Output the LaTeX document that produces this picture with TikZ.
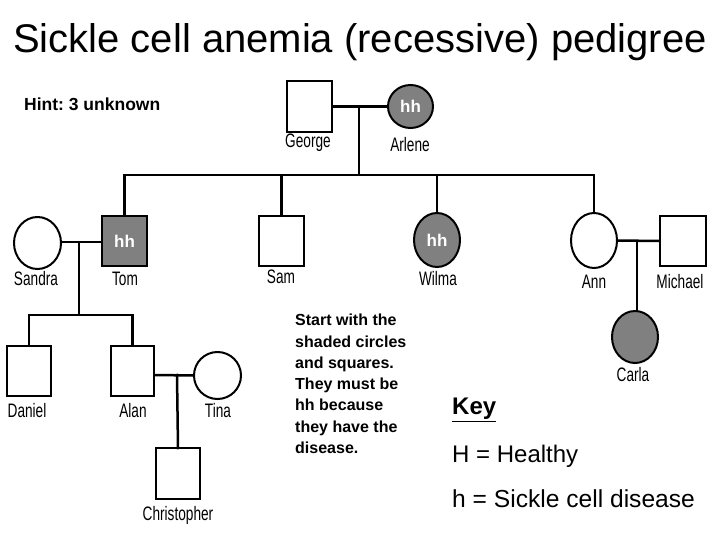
\documentclass[tikz,border=0pt]{standalone}
\usepackage{fontspec}
\setmainfont{Liberation Sans}
\newfontfamily\namefont[FakeStretch=0.7]{Liberation Sans}
\usetikzlibrary{shapes.geometric}
\definecolor{affected}{RGB}{128,128,128}
\frenchspacing
\tikzset{
  male/.style={draw, line width=2pt, rectangle, inner sep=0pt},
  female/.style={draw, line width=2pt, ellipse, inner sep=0pt},
  aff/.style={fill=affected, text=white, font=\fontsize{17}{17}\selectfont\bfseries},
  lbl/.style={inner sep=0pt, font=\namefont\fontsize{19.5}{19.5}\selectfont},
  conn/.style={line width=2.5pt, line cap=rect},
}
\begin{document}
\begin{tikzpicture}[x=1pt,y=-1pt]
\useasboundingbox[fill=white] (0,0) rectangle (720,540);
% title and notes
\node[font=\fontsize{40}{40}\selectfont, inner sep=0pt] (title) at (360,42) {Sickle cell anemia (recessive) pedigree};
\node[font=\fontsize{17.5}{17.5}\selectfont\bfseries, anchor=west, inner sep=0pt] (hint) at (24,104) {Hint: 3 unknown};
\node[font=\fontsize{16}{21.3}\selectfont\bfseries, anchor=north west, align=left, inner sep=0pt] (start) at (295,314)
  {Start with the\\shaded circles\\and squares.\\They must be\\hh because\\they have the\\disease.};
\node[font=\fontsize{24}{24}\selectfont\bfseries, anchor=west, inner sep=0pt] (key) at (452,410) {\underline{Key}};
\node[font=\fontsize{24}{24}\selectfont, anchor=west, inner sep=0pt] (keyH) at (452,456) {H = Healthy};
\node[font=\fontsize{24.6}{24.6}\selectfont, anchor=west, inner sep=0pt] (keyh) at (452,499) {h = Sickle cell disease};

% generation I
\node[male, minimum width=45pt, minimum height=51pt] (george) at (309.5,106.5) {};
\node[female, aff, minimum width=45pt, minimum height=43pt] (arlene) at (410.5,106.5) {hh};
\node[lbl] (georgeL) at (308,143) {George};
\node[lbl] (arleneL) at (410,145) {Arlene};

% generation II
\node[female, minimum width=47pt, minimum height=52pt] (sandra) at (37.5,243) {};
\node[male, aff, minimum width=45pt, minimum height=50pt] (tom) at (124.5,241) {hh};
\node[male, minimum width=45pt, minimum height=50pt] (sam) at (281.5,241) {};
\node[female, aff, minimum width=46pt, minimum height=54pt] (wilma) at (437,240) {hh};
\node[female, minimum width=46pt, minimum height=55pt] (ann) at (594,240.5) {};
\node[male, minimum width=46pt, minimum height=50pt] (michael) at (683,241) {};
\node[lbl] (sandraL) at (36,279) {Sandra};
\node[lbl] (tomL) at (125,279) {Tom};
\node[lbl] (samL) at (281,277) {Sam};
\node[lbl] (wilmaL) at (438,279) {Wilma};
\node[lbl] (annL) at (594,282) {Ann};
\node[lbl] (michaelL) at (680,282) {Michael};

% generation III
\node[male, minimum width=44pt, minimum height=50pt] (daniel) at (29,371) {};
\node[male, minimum width=43pt, minimum height=50pt] (alan) at (132.5,371) {};
\node[female, minimum width=47pt, minimum height=47pt] (tina) at (217.5,375.5) {};
\node[female, aff, minimum width=46pt, minimum height=52pt] (carla) at (635,337) {};
\node[lbl] (danielL) at (27,411) {Daniel};
\node[lbl] (alanL) at (133,411) {Alan};
\node[lbl] (tinaL) at (218,411) {Tina};
\node[lbl] (carlaL) at (633,375) {Carla};

% generation IV
\node[male, minimum width=44pt, minimum height=51pt] (chris) at (178,473.5) {};
\node[lbl] (chrisL) at (178,515) {Christopher};

% connectors
\coordinate (m1) at (359,107);
\coordinate (sib1) at (359,175);
\draw[conn, line cap=butt] (george.east) -- (arlene.west);
\draw[conn] (m1) -- (sib1);
\draw[conn] (tom.north |- sib1) -- (ann.north |- sib1);
\draw[conn] (tom.north |- sib1) -- ([yshift=-1pt]tom.north);
\draw[conn] (ann.north |- sib1) -- ([yshift=-1pt]ann.north);
\draw[conn] (sam.north |- sib1) -- ([yshift=-1pt]sam.north);
\draw[conn] (wilma.north |- sib1) -- ([yshift=-1pt]wilma.north);

\coordinate (m2) at (79,242);
\coordinate (sib2) at (79,315);
\draw[conn, line cap=butt] (sandra.east |- m2) -- (tom.west |- m2);
\draw[conn] (m2) -- (sib2);
\draw[conn] (daniel.north |- sib2) -- (alan.north |- sib2);
\draw[conn] (daniel.north |- sib2) -- ([yshift=-1pt]daniel.north);
\draw[conn] (alan.north |- sib2) -- ([yshift=-1pt]alan.north);

\coordinate (m3) at (177,375);
\draw[conn, line cap=butt] (alan.east |- m3) -- (tina.west);
\draw[conn] (m3) -- ([yshift=-1pt]chris.north);

\coordinate (m4) at (637,241);
\draw[conn, line cap=butt] (ann.east) -- (michael.west |- m4);
\draw[conn] (m4) -- ([yshift=-1pt]m4 |- carla.north);
\end{tikzpicture}
\end{document}
